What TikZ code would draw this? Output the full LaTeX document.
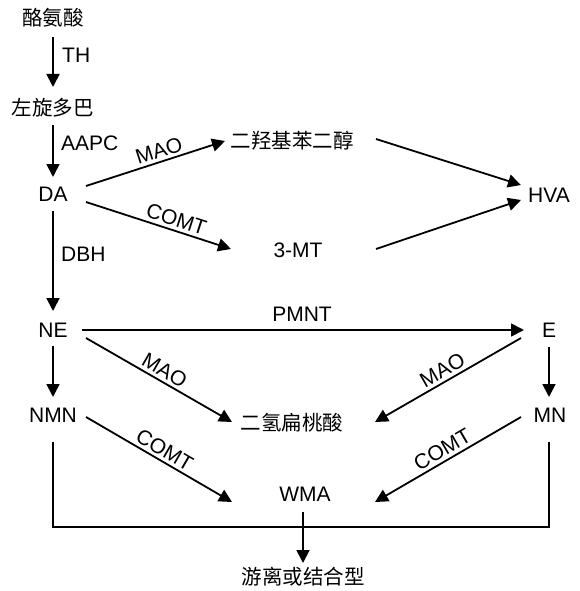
\documentclass[tikz,border=0pt]{standalone}
\usepackage{fontspec}
\setmainfont{Liberation Sans}
\newfontfamily\cjk{Noto Sans CJK SC}
\usetikzlibrary{arrows.meta}
\begin{document}
\begin{tikzpicture}[x=1pt,y=-1pt,
  lbl/.style={font=\fontsize{21}{25}\selectfont, inner sep=0pt},
  cn/.style={font={\cjk\fontsize{20.5}{25}\selectfont}, inner sep=0pt},
  arr/.style={line width=1.8pt,-{Triangle[length=13pt,width=13pt]}},
  ln/.style={line width=1.8pt},
  elab/.style={font=\fontsize{21}{25}\selectfont, sloped, above, inner sep=3pt}]
\useasboundingbox (0,0) rectangle (579,591);
% nodes
\node[cn]  (tyr)   at (53,18)  {酪氨酸};
\node[cn]  (ldopa) at (53,108) {左旋多巴};
\node[lbl] (DA)    at (53,194) {DA};
\node[cn]  (dhpg)  at (292,141) {二羟基苯二醇};
\node[lbl] (mt)    at (298,250) {3-MT};
\node[lbl] (HVA)   at (549,195) {HVA};
\node[lbl] (NE)    at (53,330) {NE};
\node[lbl] (E)     at (549,330) {E};
\node[lbl] (NMN)   at (53,415) {NMN};
\node[cn]  (dhma)  at (292,423) {二氢扁桃酸};
\node[lbl] (MN)    at (550,415) {MN};
\node[lbl] (WMA)   at (305,494) {WMA};
\node[cn]  (free)  at (303,577) {游离或结合型};
% side labels
\node[lbl, anchor=west] (lTH)   at (62,55)  {TH};
\node[lbl, anchor=west] (lAAPC) at (61,143) {AAPC};
\node[lbl, anchor=west] (lDBH)  at (61,254) {DBH};
\node[lbl] (lPMNT) at (302,314) {PMNT};
% arrows
\draw[arr] ([shift={(0,19)}]tyr.center) -- ([shift={(0,-21)}]ldopa.center);
\draw[arr] ([shift={(0,17)}]ldopa.center) -- ([shift={(0,-17)}]DA.center);
\draw[arr] ([shift={(33,-8)}]DA.center) -- node[elab, pos=0.55] {MAO} ([shift={(-67,0)}]dhpg.center);
\draw[arr] ([shift={(33,8)}]DA.center) -- node[elab, pos=0.6] {COMT} ([shift={(-67,-1)}]mt.center);
\draw[arr] ([shift={(84,-2)}]dhpg.center) -- ([shift={(-28,-10)}]HVA.center);
\draw[arr] ([shift={(78,-1)}]mt.center) -- ([shift={(-28,5)}]HVA.center);
\draw[arr] ([shift={(0,17)}]DA.center) -- ([shift={(0,-19)}]NE.center);
\draw[arr] ([shift={(29,0)}]NE.center) -- ([shift={(-25,0)}]E.center);
\draw[arr] ([shift={(0,16)}]NE.center) -- ([shift={(0,-18)}]NMN.center);
\draw[arr] ([shift={(33,8)}]NE.center) -- node[elab, pos=0.5] {MAO} ([shift={(-60,-1)}]dhma.center);
\draw[arr] ([shift={(-28,8)}]E.center) -- node[elab, pos=0.5] {MAO} ([shift={(83,-1)}]dhma.center);
\draw[arr] ([shift={(0,17)}]E.center) -- ([shift={(-1,-18)}]MN.center);
\draw[arr] ([shift={(33,2)}]NMN.center) -- node[elab, pos=0.5] {COMT} ([shift={(-73,8)}]WMA.center);
\draw[arr] ([shift={(-29,2)}]MN.center) -- node[elab, pos=0.5] {COMT} ([shift={(70,8)}]WMA.center);
\draw[ln] ([shift={(0,27)}]NMN.center) |- ([shift={(-1,112)}]MN.center) -- ([shift={(-1,27)}]MN.center);
\draw[arr] ([shift={(-2,18)}]WMA.center) -- ([shift={(0,-14)}]free.center);
\end{tikzpicture}
\end{document}
